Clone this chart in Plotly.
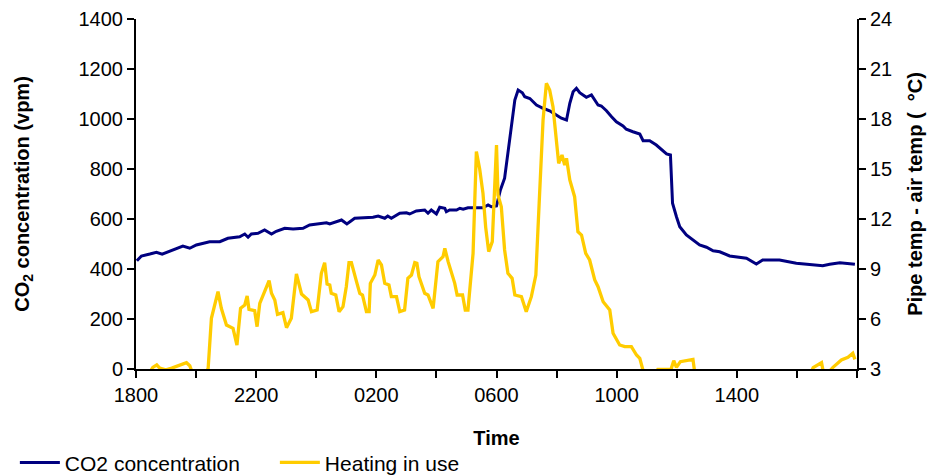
import plotly.graph_objects as go

# Time in hours after 18:00
co2_time = [0.03, 0.18, 0.46, 0.68, 0.87, 1.12, 1.56, 1.79, 2.01, 2.45, 2.79, 3.06, 3.45, 3.62, 3.73, 3.84,
            4.06, 4.28, 4.51, 4.67, 4.95, 5.23, 5.56, 5.78, 6.01, 6.34, 6.45, 6.84, 7.02, 7.28, 7.89, 8.06,
            8.28, 8.38, 8.50, 8.78, 9.00, 9.11, 9.33, 9.61, 9.72, 9.83, 10.00, 10.11, 10.28, 10.33, 10.44,
            10.67, 10.78, 10.89, 11.05, 11.55, 11.72, 11.83, 12.00, 12.13, 12.27, 12.44, 12.61, 12.72, 12.86,
            12.94, 13.11, 13.22, 13.33, 13.55, 13.77, 13.99, 14.16, 14.33, 14.44, 14.55, 14.66, 14.77, 14.99,
            15.16, 15.27, 15.38, 15.49, 15.66, 15.83, 15.99, 16.21, 16.32, 16.54, 16.77, 16.88, 17.10, 17.32,
            17.49, 17.66, 17.79, 17.86, 17.99, 18.10, 18.32, 18.54, 18.76, 18.99, 19.21, 19.43, 19.76, 20.32,
            20.65, 20.86, 21.42, 21.98, 22.54, 22.86, 23.09, 23.43, 23.93]
co2_vpm = [433, 452, 460, 467, 459, 472, 492, 483, 496, 509, 509, 523, 529, 540, 527, 540,
           543, 556, 540, 551, 563, 560, 563, 576, 580, 585, 580, 596, 580, 603, 607, 612,
           603, 612, 603, 623, 625, 620, 632, 636, 623, 636, 620, 647, 643, 629, 636,
           636, 643, 639, 645, 645, 656, 649, 652, 716, 763, 929, 1076, 1116, 1105,
           1089, 1082, 1069, 1056, 1043, 1033, 1016, 1003, 996, 1063, 1109, 1123, 1105, 1087,
           1096, 1076, 1056, 1052, 1033, 1009, 989, 972, 959, 949, 940, 913, 913, 896,
           876, 860, 856, 663, 609, 569, 536, 516, 496, 487, 473, 469, 452, 443,
           420, 436, 436, 423, 416, 413, 419, 425, 419]

heat_time = [0.0, 0.46, 0.56, 0.69, 0.79, 0.99, 1.19, 1.45, 1.68, 1.79, 1.85, 2.29, 2.40, 2.51, 2.73, 2.84,
             3.01, 3.23, 3.36, 3.48, 3.62, 3.70, 3.76, 3.95, 4.03, 4.12, 4.28, 4.43, 4.51, 4.62, 4.71, 4.89,
             5.01, 5.17, 5.34, 5.51, 5.73, 5.84, 6.03, 6.17, 6.28, 6.36, 6.45, 6.50, 6.65, 6.76, 6.89, 7.00,
             7.09, 7.17, 7.34, 7.45, 7.54, 7.67, 7.76, 7.80, 7.95, 8.06, 8.17, 8.28, 8.42, 8.50, 8.67, 8.78,
             8.94, 9.05, 9.17, 9.28, 9.35, 9.42, 9.61, 9.72, 9.89, 10.05, 10.22, 10.28, 10.39, 10.50, 10.61,
             10.69, 10.87, 10.96, 11.05, 11.22, 11.33, 11.44, 11.55, 11.64, 11.74, 11.86, 12.00, 12.05, 12.16,
             12.27, 12.38, 12.52, 12.61, 12.83, 12.99, 13.16, 13.31, 13.42, 13.55, 13.66, 13.77, 13.88, 13.99,
             14.07, 14.18, 14.27, 14.33, 14.44, 14.60, 14.71, 14.83, 14.97, 15.10, 15.27, 15.38, 15.55, 15.77,
             15.88, 16.10, 16.27, 16.49, 16.66, 16.77, 16.86, 16.94, 17.27, 17.37, 17.77, 17.82, 17.90, 17.99,
             18.12, 18.32, 18.54, 18.59, 18.67, 20.40, 22.43, 22.54, 22.82, 22.87, 22.96, 23.13, 23.20, 23.48,
             23.70, 23.86, 23.93]
heat_temp = [2.0, 2.8, 3.1, 3.25, 3.05, 2.95, 3.05, 3.25, 3.38, 3.2, 2.9, 2.8, 3.0, 6.04, 7.64, 6.64,
             5.64, 5.44, 4.44, 6.64, 6.84, 7.38, 6.58, 6.5, 5.54, 6.94, 7.64, 8.3, 7.54, 7.14, 6.28, 6.38,
             5.48, 6.04, 8.7, 7.5, 7.14, 6.44, 6.54, 8.74, 9.38, 8.1, 8.04, 7.54, 7.44, 6.44, 6.74, 7.94,
             9.38, 9.38, 8.24, 7.54, 7.44, 6.44, 6.44, 8.14, 8.64, 9.54, 9.24, 8.14, 8.04, 7.34, 7.34, 6.44,
             6.54, 8.44, 8.64, 9.38, 9.34, 8.54, 7.54, 7.44, 6.64, 9.44, 9.74, 10.24, 9.44, 8.74, 8.14,
             7.44, 7.44, 6.54, 6.54, 9.94, 16.04, 15.0, 13.54, 11.5, 10.04, 10.64, 16.44, 13.44, 12.74,
             10.14, 8.74, 8.44, 7.44, 7.34, 6.44, 7.34, 8.64, 12.94, 17.94, 20.14, 19.74, 18.74, 16.94,
             15.34, 15.84, 15.24, 15.64, 14.34, 13.34, 11.24, 11.04, 9.94, 9.54, 8.34, 7.94, 7.04, 6.54,
             5.14, 4.44, 4.34, 4.34, 3.84, 3.64, 2.9, 2.5, 2.6, 2.97, 2.97, 3.04, 3.5, 3.1,
             3.44, 3.5, 3.58, 2.9, 2.5, 2.0, 2.6, 3.08, 3.38, 2.9, 2.7, 2.95, 3.1, 3.54,
             3.7, 3.94, 3.58]

x_tickvals = [0, 4, 8, 12, 16, 20]
x_ticktext = ["1800", "2200", "0200", "0600", "1000", "1400"]

FONT = "Liberation Sans, Arial, sans-serif"

fig = go.Figure()
fig.add_trace(go.Scatter(x=co2_time, y=co2_vpm, mode="lines", name="CO2 concentration",
                         line=dict(color="#000080", width=3), yaxis="y"))
fig.add_trace(go.Scatter(x=heat_time, y=heat_temp, mode="lines", name="Heating in use",
                         line=dict(color="#FFCC00", width=3.3), yaxis="y2"))

axis_common = dict(showgrid=False, zeroline=False, showline=True, linecolor="black", linewidth=2,
                   ticks="outside", ticklen=7, tickwidth=1.5, tickcolor="black",
                   tickfont=dict(family=FONT, size=20, color="black"))

fig.update_layout(
    width=933, height=475,
    margin=dict(l=136, r=76, t=19, b=106, autoexpand=False),
    paper_bgcolor="white", plot_bgcolor="white",
    font=dict(family=FONT, color="black"),
    xaxis=dict(range=[0, 24], tickmode="array", tickvals=x_tickvals, ticktext=x_ticktext,
               minor=dict(tickmode="linear", tick0=0, dtick=2, ticks="outside", ticklen=7,
                          tickwidth=1.5, tickcolor="black", showgrid=False),
               title=dict(text="<b>Time</b>", font=dict(family=FONT, size=20), standoff=26),
               **axis_common),
    yaxis=dict(range=[0, 1400], dtick=200, tick0=0,
               title=dict(text="<b>CO<sub>2</sub> concentration (vpm)</b>", font=dict(family=FONT, size=20),
                          standoff=44),
               **axis_common),
    yaxis2=dict(range=[3, 24], dtick=3, tick0=3, overlaying="y", side="right",
                title=dict(text="<b>Pipe temp - air temp (  °C)</b>", font=dict(family=FONT, size=20),
                           standoff=17),
                **axis_common),
    legend=dict(orientation="h", x=-0.168, xanchor="left", y=-0.268, yanchor="middle",
                font=dict(family=FONT, size=21, color="black"), bgcolor="rgba(0,0,0,0)",
                itemwidth=40, tracegroupgap=0, entrywidth=205, entrywidthmode="pixels"),
    showlegend=True,
)

fig.write_html("out.html")
